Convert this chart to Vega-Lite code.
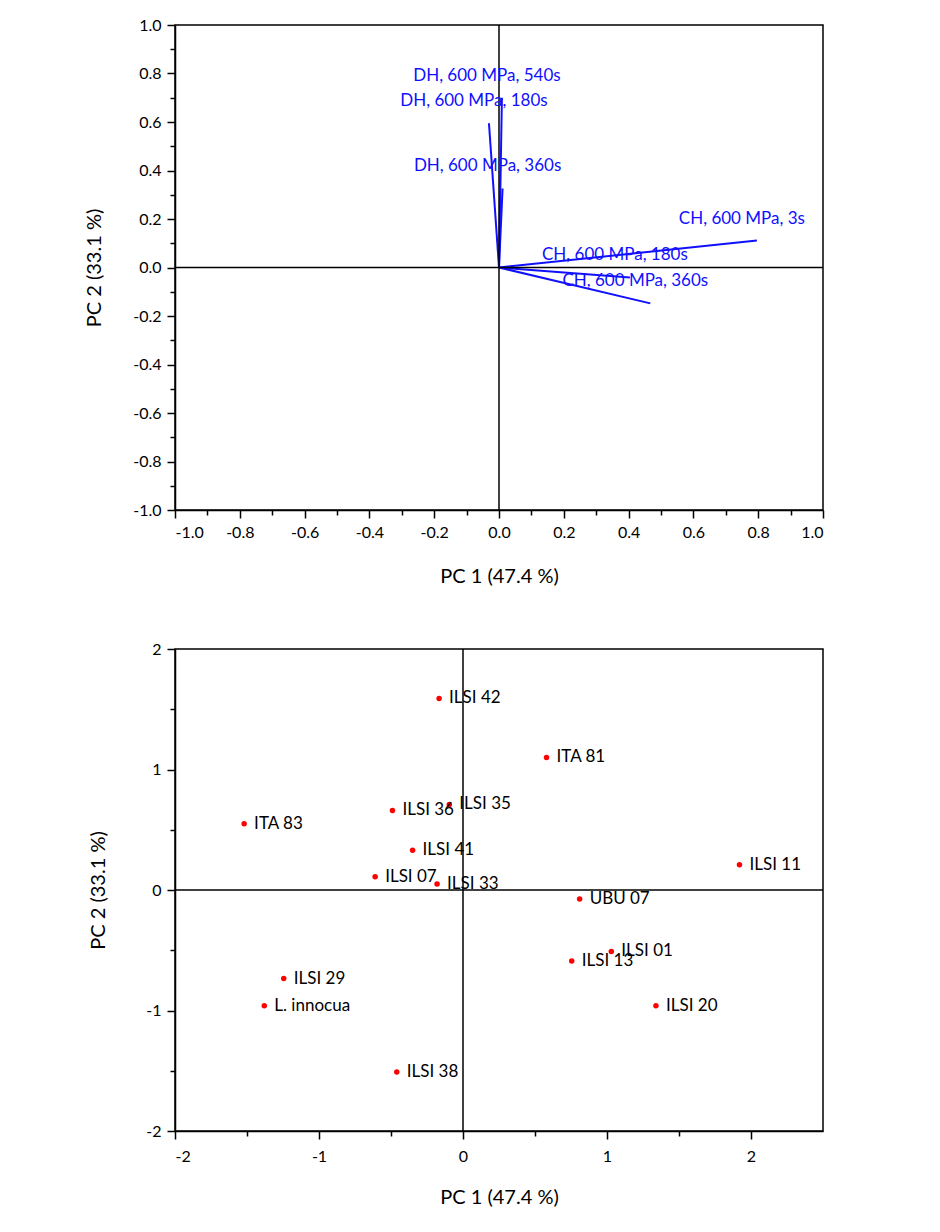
{
  "$schema": "https://vega.github.io/schema/vega-lite/v6.json",
  "padding": {"left": 83, "top": 16, "right": 10, "bottom": 10},
  "background": "white",
  "spacing": 139,
  "bounds": "flush",
  "config": {
    "font": "Lato",
    "view": {"stroke": "black", "strokeWidth": 1.5},
    "axis": {
      "domainColor": "black", "domainWidth": 1.5, "tickColor": "black", "tickWidth": 1.5,
      "tickSize": 8, "labelPadding": 6, "labelFontSize": 16, "labelColor": "black",
      "titleFontSize": 20, "titleFontWeight": "normal", "titleColor": "black", "grid": false,
      "labelFont": "Lato", "titleFont": "Lato"
    }
  },
  "datasets": {
    "vectors": [
      {"label": "CH, 600 MPa, 3s", "x": 0.796, "y": 0.111},
      {"label": "CH, 600 MPa, 180s", "x": 0.404, "y": -0.041},
      {"label": "CH, 600 MPa, 360s", "x": 0.467, "y": -0.148},
      {"label": "DH, 600 MPa, 180s", "x": -0.031, "y": 0.595},
      {"label": "DH, 600 MPa, 540s", "x": 0.009, "y": 0.70},
      {"label": "DH, 600 MPa, 360s", "x": 0.011, "y": 0.326}
    ],
    "scores": [
      {"label": "ILSI 42", "x": -0.166, "y": 1.59},
      {"label": "ITA 81", "x": 0.58, "y": 1.10},
      {"label": "ILSI 35", "x": -0.095, "y": 0.71},
      {"label": "ILSI 36", "x": -0.49, "y": 0.66},
      {"label": "ITA 83", "x": -1.52, "y": 0.55},
      {"label": "ILSI 41", "x": -0.35, "y": 0.33},
      {"label": "ILSI 07", "x": -0.61, "y": 0.11},
      {"label": "ILSI 33", "x": -0.18, "y": 0.05},
      {"label": "ILSI 11", "x": 1.92, "y": 0.21},
      {"label": "UBU 07", "x": 0.81, "y": -0.075},
      {"label": "ILSI 01", "x": 1.03, "y": -0.51},
      {"label": "ILSI 13", "x": 0.755, "y": -0.59},
      {"label": "ILSI 20", "x": 1.34, "y": -0.96},
      {"label": "ILSI 29", "x": -1.245, "y": -0.735},
      {"label": "L. innocua", "x": -1.38, "y": -0.96},
      {"label": "ILSI 38", "x": -0.46, "y": -1.51}
    ]
  },
  "vconcat": [
    {
      "width": 648,
      "height": 485,
      "layer": [
        {
          "data": {"name": "vectors"},
          "mark": {"type": "rule", "color": "#1010ff", "strokeWidth": 2},
          "encoding": {
            "x": {"field": "x", "type": "quantitative", "scale": {"domain": [-1, 1], "nice": false, "zero": false},
                  "axis": {"orient": "bottom", "title": "PC 1 (47.4 %)", "values": [-1, -0.8, -0.6, -0.4, -0.2, 0, 0.2, 0.4, 0.6, 0.8, 1], "format": ".1f", "labelExpr": "replace(datum.label, '\u2212', '-')", "titlePadding": 26}},
            "x2": {"datum": 0},
            "y": {"field": "y", "type": "quantitative", "scale": {"domain": [-1, 1], "nice": false, "zero": false},
                  "axis": {"orient": "left", "title": "PC 2 (33.1 %)", "values": [-1, -0.8, -0.6, -0.4, -0.2, 0, 0.2, 0.4, 0.6, 0.8, 1], "format": ".1f", "labelExpr": "replace(datum.label, '\u2212', '-')", "titlePadding": 28}},
            "y2": {"datum": 0}
          }
        },
        {
          "data": {"values": [{}]},
          "mark": {"type": "rule", "color": "black", "strokeWidth": 1.5},
          "encoding": {
            "x": {"datum": 0, "type": "quantitative",
                  "axis": {"orient": "bottom", "title": null, "labels": false, "domain": false, "tickSize": 5, "values": [-0.9, -0.7, -0.5, -0.3, -0.1, 0.1, 0.3, 0.5, 0.7, 0.9]}}
          }
        },
        {
          "data": {"values": [{}]},
          "mark": {"type": "rule", "color": "black", "strokeWidth": 1.5},
          "encoding": {
            "y": {"datum": 0, "type": "quantitative",
                  "axis": {"orient": "left", "title": null, "labels": false, "domain": false, "tickSize": 5, "values": [-0.9, -0.7, -0.5, -0.3, -0.1, 0.1, 0.3, 0.5, 0.7, 0.9]}}
          }
        },
        {
          "data": {"name": "vectors"},
          "mark": {"type": "text", "color": "#1010ff", "fontSize": 17, "font": "Lato", "align": "center", "baseline": "middle", "dx": -15, "dy": -22},
          "encoding": {
            "x": {"field": "x", "type": "quantitative", "axis": null},
            "y": {"field": "y", "type": "quantitative", "axis": null},
            "text": {"field": "label"}
          }
        }
      ],
      "resolve": {"axis": {"x": "independent", "y": "independent"}}
    },
    {
      "width": 648,
      "height": 482,
      "layer": [
        {
          "data": {"name": "scores"},
          "mark": {"type": "circle", "color": "#ff0000", "opacity": 1, "size": 30},
          "encoding": {
            "x": {"field": "x", "type": "quantitative", "scale": {"domain": [-2, 2.5], "nice": false, "zero": false},
                  "axis": {"orient": "bottom", "title": "PC 1 (47.4 %)", "values": [-2, -1, 0, 1, 2], "format": "d", "labelExpr": "replace(datum.label, '\u2212', '-')", "titlePadding": 23, "labelPadding": 9}},
            "y": {"field": "y", "type": "quantitative", "scale": {"domain": [-2, 2], "nice": false, "zero": false},
                  "axis": {"orient": "left", "title": "PC 2 (33.1 %)", "values": [-2, -1, 0, 1, 2], "format": "d", "labelExpr": "replace(datum.label, '\u2212', '-')", "titlePadding": 37}}
          }
        },
        {
          "data": {"values": [{}]},
          "mark": {"type": "rule", "color": "black", "strokeWidth": 1.5},
          "encoding": {
            "x": {"datum": 0, "type": "quantitative",
                  "axis": {"orient": "bottom", "title": null, "labels": false, "domain": false, "tickSize": 5, "values": [-1.5, -0.5, 0.5, 1.5]}}
          }
        },
        {
          "data": {"values": [{}]},
          "mark": {"type": "rule", "color": "black", "strokeWidth": 1.5},
          "encoding": {
            "y": {"datum": 0, "type": "quantitative",
                  "axis": {"orient": "left", "title": null, "labels": false, "domain": false, "tickSize": 5, "values": [-1.5, -0.5, 0.5, 1.5]}}
          }
        },
        {
          "data": {"name": "scores"},
          "mark": {"type": "text", "color": "black", "fontSize": 17, "font": "Lato", "align": "left", "baseline": "middle", "dx": 10},
          "encoding": {
            "x": {"field": "x", "type": "quantitative", "axis": null},
            "y": {"field": "y", "type": "quantitative", "axis": null},
            "text": {"field": "label"}
          }
        }
      ],
      "resolve": {"axis": {"x": "independent", "y": "independent"}}
    }
  ]
}
